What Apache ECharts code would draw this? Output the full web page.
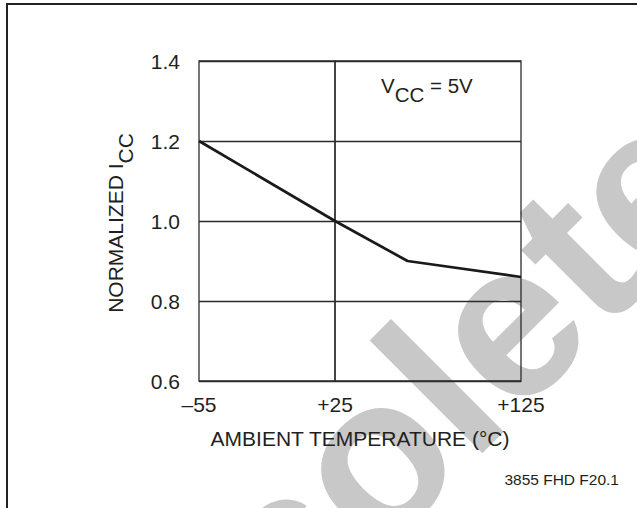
<!DOCTYPE html>
<html>
<head>
<meta charset="utf-8">
<script src="https://cdn.jsdelivr.net/npm/echarts@6/dist/echarts.min.js"></script>
<style>html,body{margin:0;padding:0;background:#fff;}#c{width:637px;height:508px;}</style>
</head>
<body>
<div id="c"></div>
<script>
// ---- data ----
const temps = [-55, 25, 64, 125];          // ambient temperature (°C)
const iccNorm = [1.2, 1.0, 0.9, 0.86];     // normalized ICC
const xTicks = [-55, 25, 125];
const yTicks = [0.6, 0.8, 1.0, 1.2, 1.4];
const panelBreak = 25;                     // the x scale is drawn as two panels split at +25

const FONT = 'Liberation Sans, Arial, Helvetica, sans-serif';
const INK = '#231f20';
const GRIDC = '#2b2b2b';

const pts = temps.map((t, i) => [t, iccNorm[i]]);
const lowPts = pts.filter(p => p[0] <= panelBreak);
const highPts = pts.filter(p => p[0] >= panelBreak);

function fmtX(v) {
  if (v > 0) return '+' + v;
  if (v < 0) return '\u2013' + (-v);
  return String(v);
}

const chart = echarts.init(document.getElementById('c'), null, { renderer: 'svg' });

const yAxisBase = {
  type: 'value',
  min: yTicks[0],
  max: yTicks[yTicks.length - 1],
  interval: 0.2,
  axisLine: { show: false },
  axisTick: { show: false },
  splitLine: { show: true, lineStyle: { color: GRIDC, width: 1.3 } },
  z: 5
};

chart.setOption({
  backgroundColor: '#fff',
  animation: false,
  grid: [
    { left: 199, top: 61, width: 136, height: 320, show: true, borderColor: GRIDC, borderWidth: 1.3, backgroundColor: 'transparent', z: 5 },
    { left: 335, top: 61, width: 186, height: 320, show: true, borderColor: GRIDC, borderWidth: 1.3, backgroundColor: 'transparent', z: 5 }
  ],
  xAxis: [
    {
      type: 'value', gridIndex: 0, min: temps[0], max: panelBreak,
      axisLine: { show: false }, axisTick: { show: false }, splitLine: { show: false },
      axisLabel: {
        customValues: xTicks.filter(t => t <= panelBreak),
        formatter: fmtX, margin: 13, fontSize: 21, fontFamily: FONT, color: INK
      },
      z: 5
    },
    {
      type: 'value', gridIndex: 1, min: panelBreak, max: temps[temps.length - 1],
      axisLine: { show: false }, axisTick: { show: false }, splitLine: { show: false },
      axisLabel: {
        customValues: xTicks.filter(t => t > panelBreak),
        formatter: fmtX, margin: 13, fontSize: 21, fontFamily: FONT, color: INK
      },
      z: 5
    }
  ],
  yAxis: [
    Object.assign({}, yAxisBase, {
      gridIndex: 0,
      axisLabel: { formatter: v => v.toFixed(1), margin: 19, fontSize: 21, fontFamily: FONT, color: INK }
    }),
    Object.assign({}, yAxisBase, {
      gridIndex: 1,
      axisLabel: { show: false }
    })
  ],
  series: [
    {
      type: 'line', xAxisIndex: 0, yAxisIndex: 0, data: lowPts,
      symbol: 'none', lineStyle: { color: '#1a1a1a', width: 2.7 }, z: 10
    },
    {
      type: 'line', xAxisIndex: 1, yAxisIndex: 1, data: highPts,
      symbol: 'none', lineStyle: { color: '#1a1a1a', width: 2.7 }, z: 10
    }
  ],
  graphic: [
    // watermark
    {
      type: 'text', x: 353, y: 475, rotation: Math.PI / 4, z: -10, silent: true,
      style: {
        text: 'Obsolete', fill: '#c8c8c8', font: 'bold 220px ' + FONT,
        align: 'center', verticalAlign: 'middle'
      }
    },
    // frame
    {
      type: 'rect', z: 1, silent: true,
      shape: { x: 7, y: 4, width: 700, height: 600 },
      style: { fill: 'none', stroke: '#222', lineWidth: 2 }
    },
    // x axis title
    {
      type: 'text', x: 360, y: 438, z: 20,
      style: {
        text: 'AMBIENT TEMPERATURE (\u00B0C)', fill: INK, font: '21px ' + FONT,
        align: 'center', verticalAlign: 'middle'
      }
    },
    // y axis title
    {
      type: 'text', x: 115.5, y: 223, rotation: Math.PI / 2, z: 20,
      style: {
        text: '{a|NORMALIZED I}{b|CC}',
        align: 'center', verticalAlign: 'middle',
        rich: {
          a: { fontSize: 21, fontFamily: FONT, fill: INK, color: INK, lineHeight: 22, verticalAlign: 'middle' },
          b: { fontSize: 21, fontFamily: FONT, fill: INK, color: INK, lineHeight: 22, verticalAlign: 'middle', padding: [20, 0, 0, 0] }
        }
      }
    },
    // VCC annotation
    {
      type: 'text', x: 381, y: 85, z: 20,
      style: {
        text: '{a|V}{b|CC}{a| = 5V}',
        align: 'left', verticalAlign: 'middle',
        rich: {
          a: { fontSize: 20.5, fontFamily: FONT, fill: INK, color: INK, lineHeight: 22, verticalAlign: 'middle' },
          b: { fontSize: 20.5, fontFamily: FONT, fill: INK, color: INK, lineHeight: 22, verticalAlign: 'middle', padding: [18, 0, 0, 0] }
        }
      }
    },
    // figure id
    {
      type: 'text', x: 619, y: 479, z: 20,
      style: {
        text: '3855 FHD F20.1', fill: INK, font: '15.5px ' + FONT,
        align: 'right', verticalAlign: 'middle'
      }
    }
  ]
});
</script>
</body>
</html>
